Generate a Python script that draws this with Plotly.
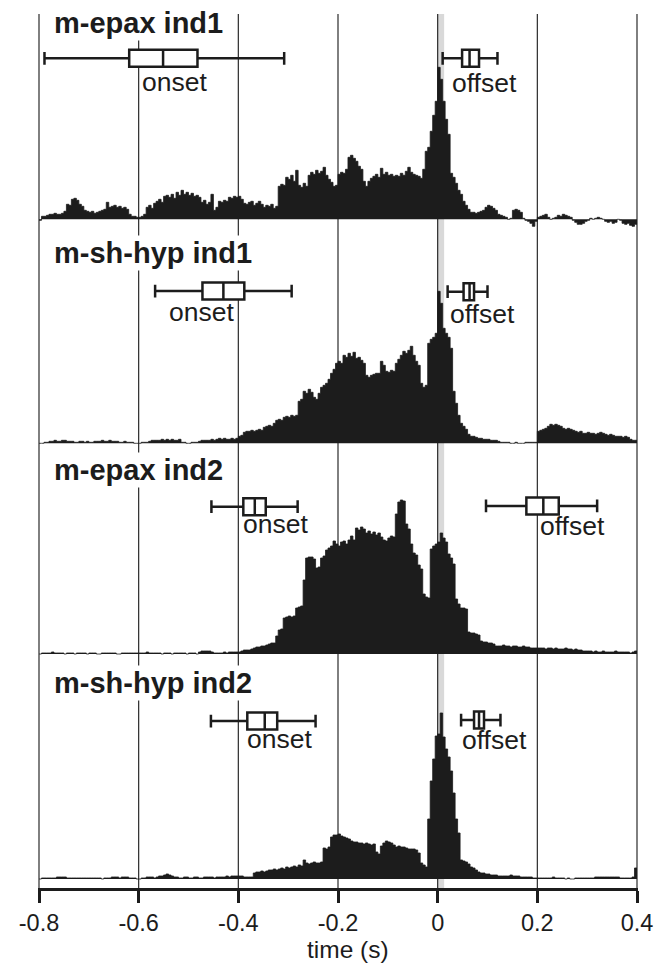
import numpy as np
import plotly.graph_objects as go

# ---------------- data ----------------
BIN = 0.005
t_start = -0.8
t_end = 0.4

panel_titles = ["m-epax ind1", "m-sh-hyp ind1", "m-epax ind2", "m-sh-hyp ind2"]
x_title = "time (s)"

# activity (arbitrary units), bins of 5 ms from -0.8 s to 0.4 s
act_epax1 = [
    -1, 3, 3, 4, 5, 5, 6, 5, 5, 6, 8, 15, 14, 20, 21, 19, 15, 13, 9, 8,
    7, 8, 6, 7, 8, 9, 10, 17, 12, 13, 14, 12, 13, 11, 12, 10, 5, 3, 3, 2,
    2, 3, 5, 12, 14, 11, 16, 18, 20, 17, 23, 24, 22, 25, 21, 27, 24, 29, 25, 27,
    24, 26, 23, 24, 22, 17, 19, 15, 17, 25, 9, 12, 18, 17, 19, 18, 22, 21, 23, 22,
    23, 20, 16, 15, 17, 18, 14, 16, 18, 15, 12, 14, 13, 15, 11, 13, 33, 35, 34, 42,
    40, 44, 38, 49, 34, 32, 36, 33, 44, 47, 45, 49, 46, 48, 52, 44, 40, 37, 33, 34,
    45, 47, 46, 50, 62, 64, 61, 58, 53, 50, 38, 33, 38, 41, 43, 45, 42, 51, 45, 47,
    44, 45, 43, 44, 43, 46, 44, 48, 52, 47, 45, 44, 43, 41, 50, 68, 72, 88, 104, 118,
    152, 140, 118, 100, 85, 46, 42, 36, 29, 25, 18, 14, 10, 7, 7, 6, 7, 8, 9, 12,
    14, 13, 11, 9, 5, 4, 3, 2, 0, 1, 9, 10, 9, 7, 1, -1, -2, -4, -7, -2,
    2, 3, 4, 5, 2, 0, 1, 2, 4, 3, 5, 4, 3, 2, -1, -3, -5, -5, -4, -2,
    -1, 1, 0, 1, 2, 1, 0, -2, -3, -2, -4, -3, 0, -1, -4, -5, -4, -6, -7, -5,
]
act_shhyp1 = [
    0, 0, 1, 1, 2, 2, 3, 2, 2, 3, 3, 2, 2, 2, 1, 1, 2, 2, 1, 2,
    1, 1, 2, 2, 2, 3, 2, 2, 3, 2, 2, 2, 1, 1, 2, 1, 1, 1, 0, 0,
    0, 1, 1, 1, 2, 3, 3, 3, 3, 4, 3, 4, 3, 4, 3, 3, 4, 1, 1, 0,
    0, 1, 1, 1, 2, 3, 3, 3, 3, 4, 3, 4, 5, 4, 5, 4, 4, 5, 4, 5,
    7, 8, 11, 12, 12, 13, 12, 13, 14, 13, 16, 17, 18, 17, 20, 23, 24, 23, 26, 27,
    26, 28, 27, 28, 42, 44, 52, 50, 54, 51, 46, 44, 50, 56, 58, 60, 64, 70, 74, 80,
    82, 80, 88, 86, 90, 87, 91, 85, 86, 83, 80, 68, 66, 68, 69, 70, 70, 82, 78, 72,
    71, 73, 72, 80, 84, 88, 92, 90, 93, 97, 88, 82, 78, 60, 56, 58, 100, 104, 106, 110,
    152, 140, 115, 110, 106, 95, 52, 40, 28, 20, 17, 14, 9, 7, 7, 6, 5, 5, 4, 4,
    4, 3, 3, 3, 2, 1, 1, 1, 1, 0, 0, 1, 0, 0, 0, 1, 1, 1, 1, 1,
    12, 13, 14, 15, 17, 19, 18, 19, 18, 17, 15, 14, 15, 14, 13, 12, 11, 12, 10, 10,
    11, 10, 10, 9, 10, 11, 10, 9, 8, 9, 8, 7, 7, 7, 6, 7, 6, 4, 3, 3,
]
act_epax2 = [
    0, 1, 1, 1, 1, 2, 1, 1, 1, 1, 0, 1, 1, 1, 0, 1, 1, 1, 1, 0,
    1, 1, 1, 0, 0, 1, 1, 1, 1, 1, 1, 0, 0, 1, 1, 1, 1, 1, 1, 1,
    1, 1, 1, 2, 1, 1, 1, 1, 1, 0, 1, 1, 1, 0, 1, 1, 1, 1, 1, 0,
    1, 1, 1, 0, 2, 3, 3, 3, 3, 2, 1, 1, 1, 1, 2, 1, 2, 2, 2, 2,
    2, 3, 4, 4, 4, 5, 6, 7, 7, 8, 8, 9, 10, 11, 11, 18, 24, 25, 36, 37,
    38, 37, 38, 46, 47, 48, 74, 96, 97, 97, 95, 86, 87, 96, 98, 104, 106, 108, 113, 110,
    108, 112, 113, 110, 114, 118, 114, 126, 124, 127, 125, 121, 123, 120, 122, 119, 121, 117, 114, 113,
    116, 118, 117, 140, 152, 154, 153, 130, 125, 110, 101, 99, 89, 85, 60, 57, 56, 105, 108, 110,
    112, 121, 116, 112, 100, 96, 90, 55, 50, 46, 46, 45, 22, 21, 21, 20, 19, 13, 12, 12,
    11, 11, 10, 8, 8, 8, 9, 8, 8, 7, 8, 8, 7, 7, 8, 7, 7, 6, 6, 6,
    6, 6, 6, 5, 6, 6, 5, 6, 5, 5, 5, 6, 5, 5, 4, 5, 4, 4, 3, 3,
    3, 3, 2, 3, 2, 2, 3, 2, 2, 2, 2, 3, 2, 2, 2, 2, 2, 1, 2, 3,
]
act_shhyp2 = [
    0, 1, 1, 1, 1, 1, 1, 2, 2, 2, 2, 1, 1, 1, 1, 1, 1, 1, 1, 1,
    1, 1, 1, 1, 1, 0, 1, 1, 1, 2, 2, 2, 1, 2, 2, 2, 1, 1, 1, 0,
    0, 1, 1, 2, 2, 2, 1, 2, 3, 3, 4, 5, 4, 3, 2, 2, 1, 1, 2, 2,
    1, 1, 2, 2, 1, 1, 2, 2, 2, 2, 1, 2, 2, 2, 2, 3, 2, 3, 3, 3,
    3, 3, 2, 2, 2, 2, 6, 7, 7, 8, 7, 8, 9, 9, 10, 9, 10, 11, 10, 12,
    11, 12, 13, 12, 14, 13, 19, 16, 15, 16, 17, 16, 16, 17, 31, 30, 32, 42, 44, 44,
    45, 43, 42, 41, 40, 38, 37, 37, 36, 36, 35, 36, 35, 34, 35, 27, 25, 33, 36, 38,
    37, 36, 34, 32, 33, 32, 32, 31, 30, 30, 30, 29, 26, 16, 14, 12, 60, 98, 120, 143,
    145, 166, 142, 130, 122, 108, 86, 60, 46, 19, 18, 17, 15, 12, 11, 9, 7, 6, 6, 5,
    5, 4, 4, 4, 3, 3, 3, 3, 3, 4, 3, 3, 3, 2, 2, 2, 2, 2, 1, 1,
    1, 1, 1, 1, 1, 1, 2, 1, 1, 1, 1, 0, 1, 0, 0, 1, 1, 1, 1, 1,
    1, 1, 1, 2, 2, 2, 2, 2, 2, 2, 2, 2, 2, 1, 1, 1, 1, 1, 2, 11,
]
activity = [act_epax1, act_shhyp1, act_epax2, act_shhyp2]

# box statistics (s): lower whisker, q1, median, q3, upper whisker
onset_stats = [
    [-0.789, -0.619, -0.551, -0.482, -0.308],
    [-0.567, -0.472, -0.430, -0.388, -0.293],
    [-0.454, -0.390, -0.367, -0.345, -0.281],
    [-0.455, -0.382, -0.347, -0.322, -0.245],
]
offset_stats = [
    [0.010, 0.049, 0.064, 0.083, 0.120],
    [0.020, 0.052, 0.064, 0.073, 0.100],
    [0.097, 0.178, 0.212, 0.243, 0.320],
    [0.047, 0.073, 0.083, 0.093, 0.126],
]

tick_vals = [-0.8, -0.6, -0.4, -0.2, 0.0, 0.2, 0.4]
tick_text = ["-0.8", "-0.6", "-0.4", "-0.2", "0", "0.2", "0.4"]
stim_band = [0.0, 0.013]

# ---------------- layout geometry ----------------
FONT = "Liberation Sans, Arial, Helvetica, sans-serif"
INK = "#1c1c1c"
domains = [[0.75515, 1.0], [0.50343, 0.75515], [0.26087, 0.50343], [0.0, 0.26087]]
yranges = [[-8.7, 205.3], [-4.7, 215.3], [-6.0, 206.0], [-9.0, 219.0]]
box_y = [[161, 161], [152.3, 151.6], [147.3, 148.0], [158.0, 159.0]]
label_y = [[137, 136], [131, 129], [130, 128], [140, 139]]
label_x = [[-0.529, 0.094], [-0.474, 0.090], [-0.325, 0.270], [-0.318, 0.115]]
title_y = [196, 190, 184, 196]

fig = go.Figure()

edges = t_start + BIN * np.arange(len(act_epax1) + 1)
for k, vals in enumerate(activity):
    yname = "y" if k == 0 else f"y{k+1}"
    yv = list(vals) + [vals[-1]]
    fig.add_trace(go.Scatter(
        x=edges, y=yv, mode="lines", line=dict(shape="hv", width=0.8, color=INK),
        fill="tozeroy", fillcolor=INK, xaxis="x", yaxis=yname,
        showlegend=False, hoverinfo="skip"))
    for j, stats in enumerate([onset_stats[k], offset_stats[k]]):
        lo, q1, med, q3, hi = stats
        fig.add_trace(go.Box(
            orientation="h", y=[box_y[k][j]], q1=[q1], median=[med], q3=[q3],
            lowerfence=[lo], upperfence=[hi], width=17, whiskerwidth=0.75,
            fillcolor="white", line=dict(color=INK, width=2.5),
            boxpoints=False, xaxis="x", yaxis=yname, showlegend=False,
            hoverinfo="skip"))

shapes = [dict(type="rect", xref="x", yref="paper", x0=stim_band[0], x1=stim_band[1],
               y0=0, y1=1, fillcolor="#d9d9d9", line=dict(width=0), layer="below")]
for tv in tick_vals:
    shapes.append(dict(type="line", xref="x", yref="paper", x0=tv, x1=tv, y0=0, y1=1,
                       line=dict(color="#2a2a2a", width=1.2), layer="below"))

layout = dict(
    template="none",
    width=657, height=966,
    margin=dict(l=38, r=19, t=14, b=78, autoexpand=False),
    paper_bgcolor="white", plot_bgcolor="white",
    font=dict(family=FONT, color=INK),
    showlegend=False,
    xaxis=dict(
        range=[-0.802, 0.402], anchor="y4", domain=[0, 1], automargin=False,
        tickmode="array", tickvals=tick_vals, ticktext=tick_text,
        showgrid=False,
        showline=True, linecolor=INK, linewidth=2.5,
        ticks="outside", ticklen=12, tickwidth=2.5, tickcolor=INK,
        tickfont=dict(size=23.5, family=FONT, color=INK),
        zeroline=False,
    ),
    shapes=shapes,
)
for k in range(4):
    key = "yaxis" if k == 0 else f"yaxis{k+1}"
    layout[key] = dict(domain=domains[k], range=yranges[k], visible=False,
                       showgrid=False, zeroline=False, fixedrange=True, anchor="x",
                       automargin=False)

annotations = []
for k in range(4):
    yref = "y" if k == 0 else f"y{k+1}"
    annotations.append(dict(
        text="<b>" + panel_titles[k] + "</b>", x=-0.774, y=title_y[k], xref="x", yref=yref,
        xanchor="left", yanchor="middle", showarrow=False, bgcolor="white", borderpad=1,
        font=dict(size=29, family=FONT, color=INK)))
    for j, lab in enumerate(["onset", "offset"]):
        annotations.append(dict(
            text=lab, x=label_x[k][j], y=label_y[k][j], xref="x", yref=yref,
            xanchor="center", yanchor="middle", showarrow=False,
            font=dict(size=26.5, family=FONT, color=INK)))
# axis title, placed below the tick labels
annotations.append(dict(
    text=x_title, x=-0.18, y=-0.0708, xref="x", yref="paper",
    xanchor="center", yanchor="middle", showarrow=False, borderpad=0,
    font=dict(size=24.5, family=FONT, color=INK)))
layout["annotations"] = annotations

fig.update_layout(**layout)
fig.write_html("out.html")
